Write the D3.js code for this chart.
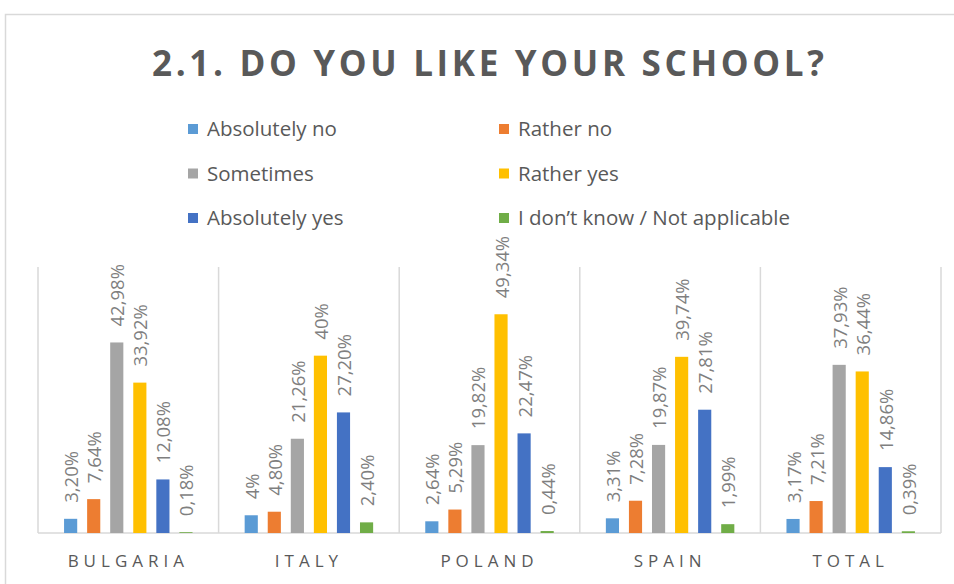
<!DOCTYPE html>
<html>
<head>
<meta charset="utf-8">
<script src="https://cdn.jsdelivr.net/npm/d3@7"></script>
<style>
  body { margin: 0; background: #fff; }
  text { font-family: "Open Sans", "Liberation Sans", sans-serif; }
</style>
</head>
<body>
<div class="canvas"></div>
<script>
// data
const categories = ['BULGARIA', 'ITALY', 'POLAND', 'SPAIN', 'TOTAL'];
const series = ['Absolutely no', 'Rather no', 'Sometimes', 'Rather yes', 'Absolutely yes', 'I don\u2019t know / Not applicable'];
const colors = ['#5B9BD5', '#ED7D31', '#A5A5A5', '#FFC000', '#4472C4', '#70AD47'];
const absolutelyNo  = [3.20, 4.00, 2.64, 3.31, 3.17];
const ratherNo      = [7.64, 4.80, 5.29, 7.28, 7.21];
const sometimes     = [42.98, 21.26, 19.82, 19.87, 37.93];
const ratherYes     = [33.92, 40.00, 49.34, 39.74, 36.44];
const absolutelyYes = [12.08, 27.20, 22.47, 27.81, 14.86];
const dontKnow      = [0.18, 2.40, 0.44, 1.99, 0.39];
const labels = [
  ['3,20%', '4%', '2,64%', '3,31%', '3,17%'],
  ['7,64%', '4,80%', '5,29%', '7,28%', '7,21%'],
  ['42,98%', '21,26%', '19,82%', '19,87%', '37,93%'],
  ['33,92%', '40%', '49,34%', '39,74%', '36,44%'],
  ['12,08%', '27,20%', '22,47%', '27,81%', '14,86%'],
  ['0,18%', '2,40%', '0,44%', '1,99%', '0,39%']
];
const values = [absolutelyNo, ratherNo, sometimes, ratherYes, absolutelyYes, dontKnow];

const width = 954, height = 584;

const svg = d3.select('.canvas').append('svg')
    .attr('width', width)
    .attr('height', height);

// chart frame
svg.append('rect')
    .attr('x', 5.5).attr('y', 14.5)
    .attr('width', 1000).attr('height', 1000)
    .attr('fill', 'none')
    .attr('stroke', '#d9d9d9')
    .attr('stroke-width', 1.5);

// title
svg.append('text')
    .attr('x', 152).attr('y', 76)
    .attr('textLength', 672)
    .attr('lengthAdjust', 'spacing')
    .attr('fill', '#595959')
    .style('font-size', '35px')
    .style('font-weight', 'bold')
    .text('2.1. DO YOU LIKE YOUR SCHOOL?');

// legend (2 columns, 3 rows)
const legend = svg.append('g');
series.forEach((s, i) => {
  const col = i % 2, row = Math.floor(i / 2);
  const gx = col === 0 ? 188 : 499;
  const gy = 129 + row * 44.5;
  legend.append('rect')
      .attr('x', gx).attr('y', gy - 5)
      .attr('width', 10).attr('height', 10)
      .attr('fill', colors[i]);
  legend.append('text')
      .attr('x', gx + 19).attr('y', gy)
      .attr('dy', '0.35em')
      .attr('fill', '#595959')
      .style('font-size', '20.5px')
      .text(s);
});

// scales
const x0 = d3.scaleBand().domain(categories).range([38, 941]);
const x1 = d3.scaleBand().domain(d3.range(series.length))
    .range([0, x0.bandwidth()])
    .paddingInner(0.43)
    .paddingOuter(1.13);
const y = d3.scaleLinear().domain([0, 60]).range([533, 267]);

// separators + baseline
const grid = svg.append('g').attr('stroke', '#d9d9d9').attr('stroke-width', 1.5);
categories.concat(['end']).forEach((c, i) => {
  const gx = x0.range()[0] + i * x0.step();
  grid.append('line')
      .attr('x1', gx).attr('x2', gx)
      .attr('y1', y(60)).attr('y2', y(0));
});
grid.append('line')
    .attr('x1', x0.range()[0]).attr('x2', x0.range()[1])
    .attr('y1', y(0)).attr('y2', y(0));

// bars and labels
values.forEach((vals, si) => {
  const g = svg.append('g');
  g.selectAll('rect')
    .data(vals)
    .join('rect')
      .attr('x', (d, ci) => x0(categories[ci]) + x1(si))
      .attr('y', d => y(d))
      .attr('width', x1.bandwidth())
      .attr('height', d => y(0) - y(d))
      .attr('fill', colors[si]);
  g.selectAll('text')
    .data(vals)
    .join('text')
      .attr('transform', (d, ci) => {
        const cx = x0(categories[ci]) + x1(si) + x1.bandwidth() / 2 + 1;
        return `translate(${cx},${y(d) - 16}) rotate(-90)`;
      })
      .attr('dy', '0.35em')
      .attr('fill', '#7f7f7f')
      .style('font-size', '18.5px')
      .text((d, ci) => labels[si][ci]);
});

// category axis
svg.append('g')
    .attr('transform', `translate(0,${y(0)})`)
    .call(d3.axisBottom(x0).tickSize(0).tickPadding(22))
    .call(g => g.select('.domain').remove())
    .selectAll('text')
      .attr('fill', '#595959')
      .style('font-size', '17px')
      .style('letter-spacing', '5px')
      .style('font-family', '"Open Sans", sans-serif');
</script>
</body>
</html>
